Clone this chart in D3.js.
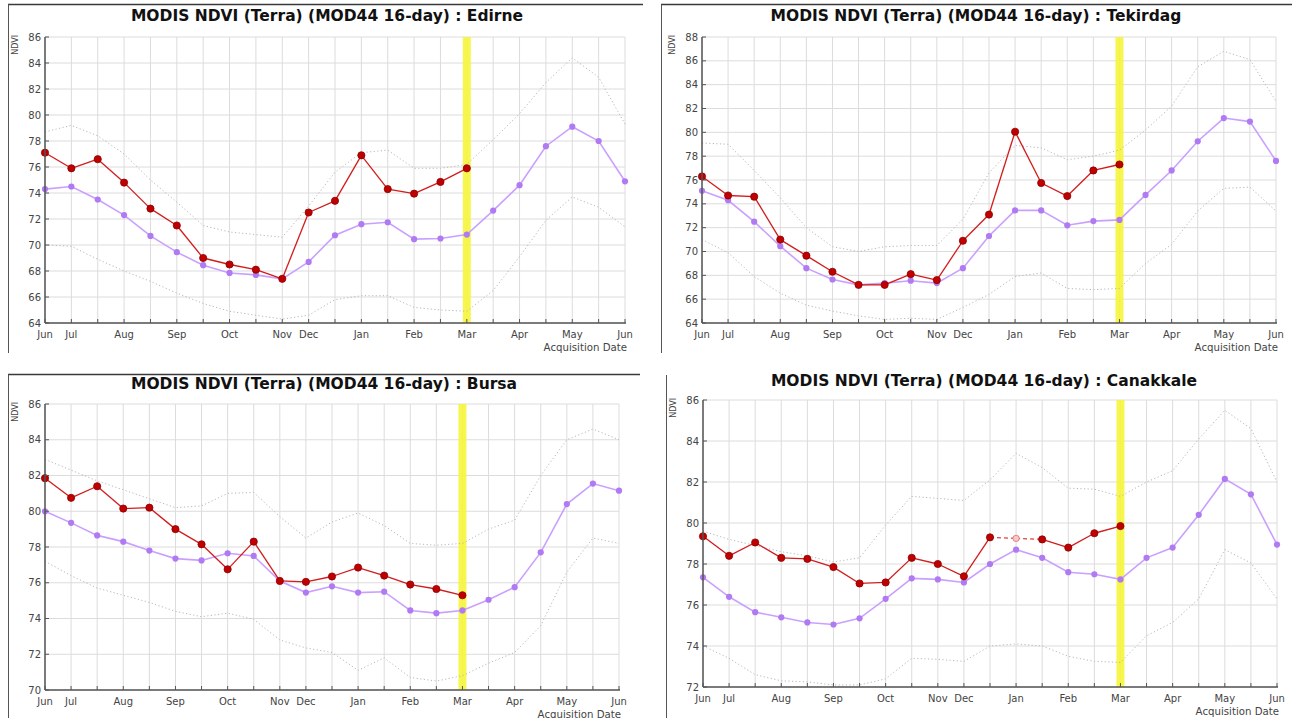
<!DOCTYPE html>
<html>
<head>
<meta charset="utf-8">
<script src="https://cdn.jsdelivr.net/npm/d3@7/dist/d3.min.js"></script>
<style>
  html, body { margin: 0; padding: 0; background: #ffffff; }
  svg { display: block; font-family: "DejaVu Sans", sans-serif; }
</style>
</head>
<body>
<svg id="chart" width="1296" height="718"></svg>
<script>
// ---------------- DATA ----------------
const xLabels = ["Jun","Jul","","Aug","","Sep","","Oct","","Nov","Dec","","Jan","","Feb","","Mar","","Apr","","May","","Jun"];
const currentIndexMarker = 16; // "Mar" highlighted composite

const titles = [
  "MODIS NDVI (Terra) (MOD44 16-day) : Edirne",
  "MODIS NDVI (Terra) (MOD44 16-day) : Tekirdag",
  "MODIS NDVI (Terra) (MOD44 16-day) : Bursa",
  "MODIS NDVI (Terra) (MOD44 16-day) : Canakkale"
];
const yDomains = [[64, 86], [64, 88], [70, 86], [72, 86]];

// Edirne
const edirneCurrent = [77.1, 75.9, 76.6, 74.8, 72.8, 71.5, 69.0, 68.5, 68.1, 67.4, 72.5, 73.4, 76.9, 74.3, 73.95, 74.85, 75.9];
const edirneMean    = [74.3, 74.5, 73.5, 72.3, 70.7, 69.45, 68.45, 67.85, 67.7, 67.4, 68.7, 70.75, 71.6, 71.75, 70.45, 70.5, 70.8, 72.65, 74.6, 77.6, 79.1, 78.0, 74.9];
const edirneUpper   = [78.7, 79.2, 78.4, 77.0, 75.0, 73.3, 71.5, 71.0, 70.8, 70.6, 73.0, 75.6, 77.1, 77.3, 75.9, 75.9, 76.2, 78.1, 80.1, 82.5, 84.4, 82.9, 79.3];
const edirneLower   = [70.0, 69.9, 68.9, 68.0, 67.2, 66.3, 65.5, 64.9, 64.6, 64.3, 64.6, 65.8, 66.1, 66.1, 65.2, 65.0, 64.9, 66.5, 69.1, 71.9, 73.7, 72.9, 71.4];

// Tekirdag
const tekirdagCurrent = [76.3, 74.7, 74.6, 71.0, 69.65, 68.3, 67.2, 67.2, 68.1, 67.6, 70.9, 73.1, 80.05, 75.75, 74.65, 76.8, 77.3];
const tekirdagMean    = [75.1, 74.3, 72.5, 70.45, 68.6, 67.65, 67.2, 67.35, 67.55, 67.35, 68.6, 71.3, 73.45, 73.45, 72.2, 72.55, 72.65, 74.75, 76.8, 79.25, 81.2, 80.9, 77.6];
const tekirdagUpper   = [79.1, 79.0, 76.8, 74.5, 72.0, 70.4, 70.0, 70.4, 70.5, 70.5, 72.7, 76.6, 78.9, 78.7, 77.7, 78.0, 78.5, 80.2, 82.2, 85.5, 86.8, 86.1, 82.6];
const tekirdagLower   = [71.0, 69.9, 67.9, 66.5, 65.5, 65.0, 64.6, 64.3, 64.4, 64.3, 65.3, 66.4, 67.9, 68.2, 66.9, 66.8, 66.9, 69.0, 70.6, 73.4, 75.3, 75.4, 73.4];

// Bursa
const bursaCurrent = [81.85, 80.75, 81.4, 80.15, 80.2, 79.0, 78.15, 76.75, 78.3, 76.1, 76.05, 76.35, 76.85, 76.4, 75.9, 75.65, 75.3];
const bursaMean    = [80.0, 79.35, 78.65, 78.3, 77.8, 77.35, 77.25, 77.65, 77.5, 76.1, 75.45, 75.8, 75.45, 75.5, 74.45, 74.3, 74.45, 75.05, 75.75, 77.7, 80.4, 81.55, 81.15];
const bursaUpper   = [82.9, 82.3, 81.7, 81.2, 80.7, 80.2, 80.3, 81.0, 81.05, 79.7, 78.5, 79.4, 79.9, 79.2, 78.2, 78.1, 78.2, 79.0, 79.5, 82.0, 84.0, 84.6, 84.0];
const bursaLower   = [77.2, 76.4, 75.7, 75.3, 74.9, 74.4, 74.1, 74.3, 73.95, 72.8, 72.35, 72.1, 71.1, 71.8, 70.7, 70.5, 70.8, 71.5, 72.1, 73.6, 76.6, 78.5, 78.2];

// Canakkale
const canakkaleCurrent = [79.35, 78.4, 79.05, 78.3, 78.25, 77.85, 77.05, 77.1, 78.3, 78.0, 77.4, 79.3, 79.25, 79.2, 78.8, 79.5, 79.85];
const canakkaleMean    = [77.35, 76.4, 75.65, 75.4, 75.15, 75.05, 75.35, 76.3, 77.3, 77.25, 77.1, 78.0, 78.7, 78.3, 77.6, 77.5, 77.25, 78.3, 78.8, 80.4, 82.15, 81.4, 78.95];
const canakkaleUpper   = [79.6, 79.2, 78.9, 78.6, 78.4, 78.1, 78.3, 79.9, 81.3, 81.2, 81.1, 82.1, 83.4, 82.7, 81.7, 81.65, 81.3, 82.0, 82.55, 84.1, 85.5, 84.6, 82.0];
const canakkaleLower   = [74.0, 73.4, 72.6, 72.3, 72.25, 72.1, 72.1, 72.4, 73.4, 73.35, 73.25, 74.0, 74.1, 74.0, 73.5, 73.25, 73.2, 74.5, 75.15, 76.3, 78.7, 78.05, 76.3];
const canakkaleFilled  = [12]; // interpolated (hollow) composite

const panelData = [
  {current: edirneCurrent, mean: edirneMean, upper: edirneUpper, lower: edirneLower, filled: []},
  {current: tekirdagCurrent, mean: tekirdagMean, upper: tekirdagUpper, lower: tekirdagLower, filled: []},
  {current: bursaCurrent, mean: bursaMean, upper: bursaUpper, lower: bursaLower, filled: []},
  {current: canakkaleCurrent, mean: canakkaleMean, upper: canakkaleUpper, lower: canakkaleLower, filled: canakkaleFilled}
];

// ---------------- LAYOUT ----------------
const layouts = [
  {x0: 45,  x1: 625,  y0: 37,  y1: 323, titleX: 327, titleY: 21,  frame: {top: 4.5, left: 8.5, right: 643, bottom: 353, drawTop: true}},
  {x0: 702, x1: 1276, y0: 37,  y1: 323, titleX: 976, titleY: 21,  frame: {top: 4.5, left: 661.5, right: 1292, bottom: 353, drawTop: true}},
  {x0: 45,  x1: 619,  y0: 404, y1: 690, titleX: 324, titleY: 389, frame: {top: 374.5, left: 8.5, right: 640, bottom: 718, drawTop: true}},
  {x0: 703, x1: 1277, y0: 400, y1: 687, titleX: 984, titleY: 386, frame: {top: 375, left: 666.5, right: 1292, bottom: 718, drawTop: false}}
];

const svg = d3.select("#chart");

function drawPanel(i) {
  const L = layouts[i], D = panelData[i];
  const g = svg.append("g");
  const x = d3.scaleLinear().domain([0, xLabels.length - 1]).range([L.x0, L.x1]);
  const y = d3.scaleLinear().domain(yDomains[i]).range([L.y1, L.y0]);

  // frame
  if (L.frame.drawTop) {
    g.append("line").attr("x1", L.frame.left - 0.5).attr("x2", L.frame.right)
      .attr("y1", L.frame.top).attr("y2", L.frame.top)
      .attr("stroke", "#3a3a3a").attr("stroke-width", 1.5);
  }
  g.append("line").attr("x1", L.frame.left).attr("x2", L.frame.left)
    .attr("y1", L.frame.top).attr("y2", L.frame.bottom)
    .attr("stroke", "#555").attr("stroke-width", 1);

  // title
  g.append("text").attr("x", L.titleX).attr("y", L.titleY)
    .attr("text-anchor", "middle").attr("font-weight", "bold")
    .attr("font-size", "15.5px").attr("fill", "#111").text(titles[i]);

  // grid
  const yTicks = d3.range(yDomains[i][0], yDomains[i][1] + 0.001, 2);
  g.append("g").selectAll("line").data(d3.range(xLabels.length)).join("line")
    .attr("x1", d => x(d)).attr("x2", d => x(d)).attr("y1", L.y0).attr("y2", L.y1)
    .attr("stroke", "#dcdcdc").attr("stroke-width", 1);
  g.append("g").selectAll("line").data(yTicks).join("line")
    .attr("x1", L.x0).attr("x2", L.x1).attr("y1", d => y(d)).attr("y2", d => y(d))
    .attr("stroke", "#dcdcdc").attr("stroke-width", 1);

  // yellow current marker
  g.append("rect").attr("x", x(currentIndexMarker) - 4).attr("y", L.y0)
    .attr("width", 8).attr("height", L.y1 - L.y0)
    .attr("fill", "#f5f53c").attr("opacity", 0.9);

  const line = d3.line().x((d, j) => x(j)).y(d => y(d));

  // envelopes
  [D.upper, D.lower].forEach(arr => {
    g.append("path").attr("d", line(arr)).attr("fill", "none")
      .attr("stroke", "#b8b8b8").attr("stroke-width", 1).attr("stroke-dasharray", "1.2,2.4");
  });

  // mean
  g.append("path").attr("d", line(D.mean)).attr("fill", "none")
    .attr("stroke", "#caa0ff").attr("stroke-width", 1.6);
  g.append("g").selectAll("circle").data(D.mean).join("circle")
    .attr("cx", (d, j) => x(j)).attr("cy", d => y(d)).attr("r", 3.1)
    .attr("fill", "#b07af2");

  // current year
  const cur = D.current.map((v, j) => ({j, v}));
  for (let j = 0; j < cur.length - 1; j++) {
    const dashed = D.filled.includes(j) || D.filled.includes(j + 1);
    g.append("line")
      .attr("x1", x(cur[j].j)).attr("y1", y(cur[j].v))
      .attr("x2", x(cur[j + 1].j)).attr("y2", y(cur[j + 1].v))
      .attr("stroke", dashed ? "#e04040" : "#d21c1c").attr("stroke-width", 1.3)
      .attr("stroke-dasharray", dashed ? "4,3" : null);
  }
  g.append("g").selectAll("circle").data(cur).join("circle")
    .attr("cx", d => x(d.j)).attr("cy", d => y(d.v))
    .attr("r", d => D.filled.includes(d.j) ? 3.2 : 3.6)
    .attr("fill", d => D.filled.includes(d.j) ? "#f6c8c8" : "#c00000")
    .attr("stroke", d => D.filled.includes(d.j) ? "#e07070" : "#8a0000")
    .attr("stroke-width", 0.8);

  // axes
  g.append("line").attr("x1", L.x0).attr("x2", L.x1 + 1).attr("y1", L.y1).attr("y2", L.y1)
    .attr("stroke", "#555").attr("stroke-width", 1.5);
  g.append("line").attr("x1", L.x0).attr("x2", L.x0).attr("y1", L.y0).attr("y2", L.y1)
    .attr("stroke", "#555").attr("stroke-width", 1.5);
  g.append("g").selectAll("line").data(d3.range(xLabels.length)).join("line")
    .attr("x1", d => x(d)).attr("x2", d => x(d)).attr("y1", L.y1).attr("y2", L.y1 - 4)
    .attr("stroke", "#555").attr("stroke-width", 1);
  g.append("g").selectAll("line").data(yTicks).join("line")
    .attr("x1", L.x0).attr("x2", L.x0 + 4).attr("y1", d => y(d)).attr("y2", d => y(d))
    .attr("stroke", "#555").attr("stroke-width", 1);

  // tick labels
  g.append("g").selectAll("text").data(yTicks).join("text")
    .attr("x", L.x0 - 4).attr("y", d => y(d) + 3.5)
    .attr("text-anchor", "end").attr("font-size", "10px").attr("fill", "#444")
    .text(d => d);
  g.append("g").selectAll("text").data(xLabels.map((t, j) => ({t, j})).filter(d => d.t)).join("text")
    .attr("x", d => x(d.j)).attr("y", L.y1 + 14.5)
    .attr("text-anchor", "middle").attr("font-size", "10px").attr("fill", "#444")
    .text(d => d.t);

  // axis titles
  g.append("text").attr("x", L.x1 + 2).attr("y", L.y1 + 27.5)
    .attr("text-anchor", "end").attr("font-size", "10.2px").attr("fill", "#444")
    .text("Acquisition Date");
  g.append("text").attr("transform", `translate(${L.x0 - 27},${L.y0 - 2}) rotate(-90)`)
    .attr("text-anchor", "end").attr("font-size", "8px").attr("fill", "#444")
    .text("NDVI");
}

for (let i = 0; i < 4; i++) drawPanel(i);
</script>
</body>
</html>
